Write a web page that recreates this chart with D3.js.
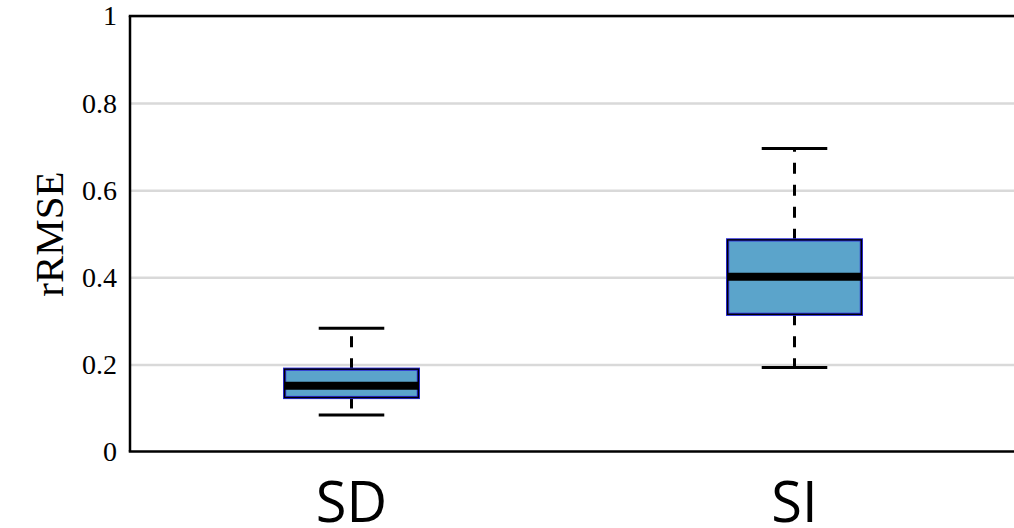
<!DOCTYPE html>
<html>
<head>
<meta charset="utf-8">
<script src="https://cdn.jsdelivr.net/npm/d3@7"></script>
<style>
  html, body { margin: 0; padding: 0; background: #fff; }
  svg { display: block; }
</style>
</head>
<body>
<svg id="chart" width="1014" height="528"></svg>
<script>
// Box-plot summary of rRMSE for each method
const categories = ["SD", "SI"];
const lowerWhisker = [0.084, 0.193];
const q1 = [0.124, 0.315];
const median = [0.151, 0.401];
const q3 = [0.189, 0.486];
const upperWhisker = [0.283, 0.696];
const yTicks = [0, 0.2, 0.4, 0.6, 0.8, 1];
const yTickLabels = ["0", "0.2", "0.4", "0.6", "0.8", "1"];

const boxes = categories.map((c, i) => ({
  cat: c, lo: lowerWhisker[i], q1: q1[i], med: median[i], q3: q3[i], hi: upperWhisker[i]
}));

const svg = d3.select("#chart");
const plotLeft = 130, plotRight = 1016, plotTop = 16, plotBottom = 451.5;

const x = d3.scaleBand().domain(categories).range([plotLeft, plotRight]).padding(0);
const y = d3.scaleLinear().domain([0, 1]).range([plotBottom, plotTop]);

const boxW = x.bandwidth() * 0.302;
const capW = boxW * 0.49;

// horizontal grid lines
svg.append("g")
  .attr("transform", `translate(${plotLeft},0)`)
  .call(d3.axisLeft(y).tickValues(yTicks.slice(1)).tickSize(-(plotRight - plotLeft)).tickFormat(""))
  .call(g => g.select(".domain").remove())
  .call(g => g.selectAll(".tick line").attr("stroke", "#d9d9d9").attr("stroke-width", 2.5));

// y tick labels
svg.append("g")
  .attr("transform", `translate(${plotLeft},0)`)
  .call(d3.axisLeft(y).tickValues(yTicks).tickSize(0).tickPadding(13)
    .tickFormat((d, i) => yTickLabels[i]))
  .call(g => g.select(".domain").remove())
  .call(g => g.selectAll(".tick text")
    .attr("font-family", "'Liberation Serif', 'Times New Roman', serif")
    .attr("font-size", 28)
    .attr("fill", "#000"));

// frame lines: left, bottom, top
svg.append("line").attr("x1", plotLeft).attr("x2", plotLeft).attr("y1", plotTop).attr("y2", plotBottom)
  .attr("stroke", "#000").attr("stroke-width", 2.5);
svg.append("line").attr("x1", plotLeft - 1.25).attr("x2", plotRight).attr("y1", plotBottom).attr("y2", plotBottom)
  .attr("stroke", "#000").attr("stroke-width", 2.5);
svg.append("line").attr("x1", plotLeft - 1.25).attr("x2", plotRight).attr("y1", plotTop).attr("y2", plotTop)
  .attr("stroke", "#000").attr("stroke-width", 2.5);

const g = svg.append("g").selectAll("g").data(boxes).join("g")
  .attr("transform", d => `translate(${x(d.cat) + x.bandwidth() / 2},0)`);

// dashed whiskers drawn outward from the box
g.append("line").attr("x1", 0).attr("x2", 0)
  .attr("y1", d => y(d.q3)).attr("y2", d => y(d.hi))
  .attr("stroke", "#000").attr("stroke-width", 3).attr("stroke-dasharray", "11,11");
g.append("line").attr("x1", 0).attr("x2", 0)
  .attr("y1", d => y(d.q1)).attr("y2", d => y(d.lo))
  .attr("stroke", "#000").attr("stroke-width", 3).attr("stroke-dasharray", "11,11");

// whisker caps
g.append("line").attr("x1", -capW / 2).attr("x2", capW / 2)
  .attr("y1", d => y(d.hi)).attr("y2", d => y(d.hi))
  .attr("stroke", "#000").attr("stroke-width", 3);
g.append("line").attr("x1", -capW / 2).attr("x2", capW / 2)
  .attr("y1", d => y(d.lo)).attr("y2", d => y(d.lo))
  .attr("stroke", "#000").attr("stroke-width", 3);

// boxes: blue fill, blue outer edge with a black inner edge
g.append("rect")
  .attr("x", -boxW / 2).attr("width", boxW)
  .attr("y", d => y(d.q3)).attr("height", d => y(d.q1) - y(d.q3))
  .attr("fill", "#5ba4cb").attr("stroke", "#2b2bd8").attr("stroke-width", 3.2);
g.append("rect")
  .attr("x", -boxW / 2).attr("width", boxW)
  .attr("y", d => y(d.q3)).attr("height", d => y(d.q1) - y(d.q3))
  .attr("fill", "none").attr("stroke", "#000").attr("stroke-width", 1.4);

// medians
g.append("line").attr("x1", -boxW / 2).attr("x2", boxW / 2)
  .attr("y1", d => y(d.med)).attr("y2", d => y(d.med))
  .attr("stroke", "#000").attr("stroke-width", 8);

// category labels
svg.append("g").selectAll("text").data(categories).join("text")
  .attr("x", d => x(d) + x.bandwidth() / 2)
  .attr("y", 522)
  .attr("text-anchor", "middle")
  .attr("font-family", "'Open Sans', 'Noto Sans', sans-serif")
  .attr("font-size", 56)
  .attr("fill", "#000")
  .text(d => d);

// y axis title
svg.append("text")
  .attr("transform", "translate(63,234) rotate(-90)")
  .attr("text-anchor", "middle")
  .attr("font-family", "'Liberation Serif', 'Times New Roman', serif")
  .attr("font-size", 41)
  .attr("fill", "#000")
  .text("rRMSE");
</script>
</body>
</html>
